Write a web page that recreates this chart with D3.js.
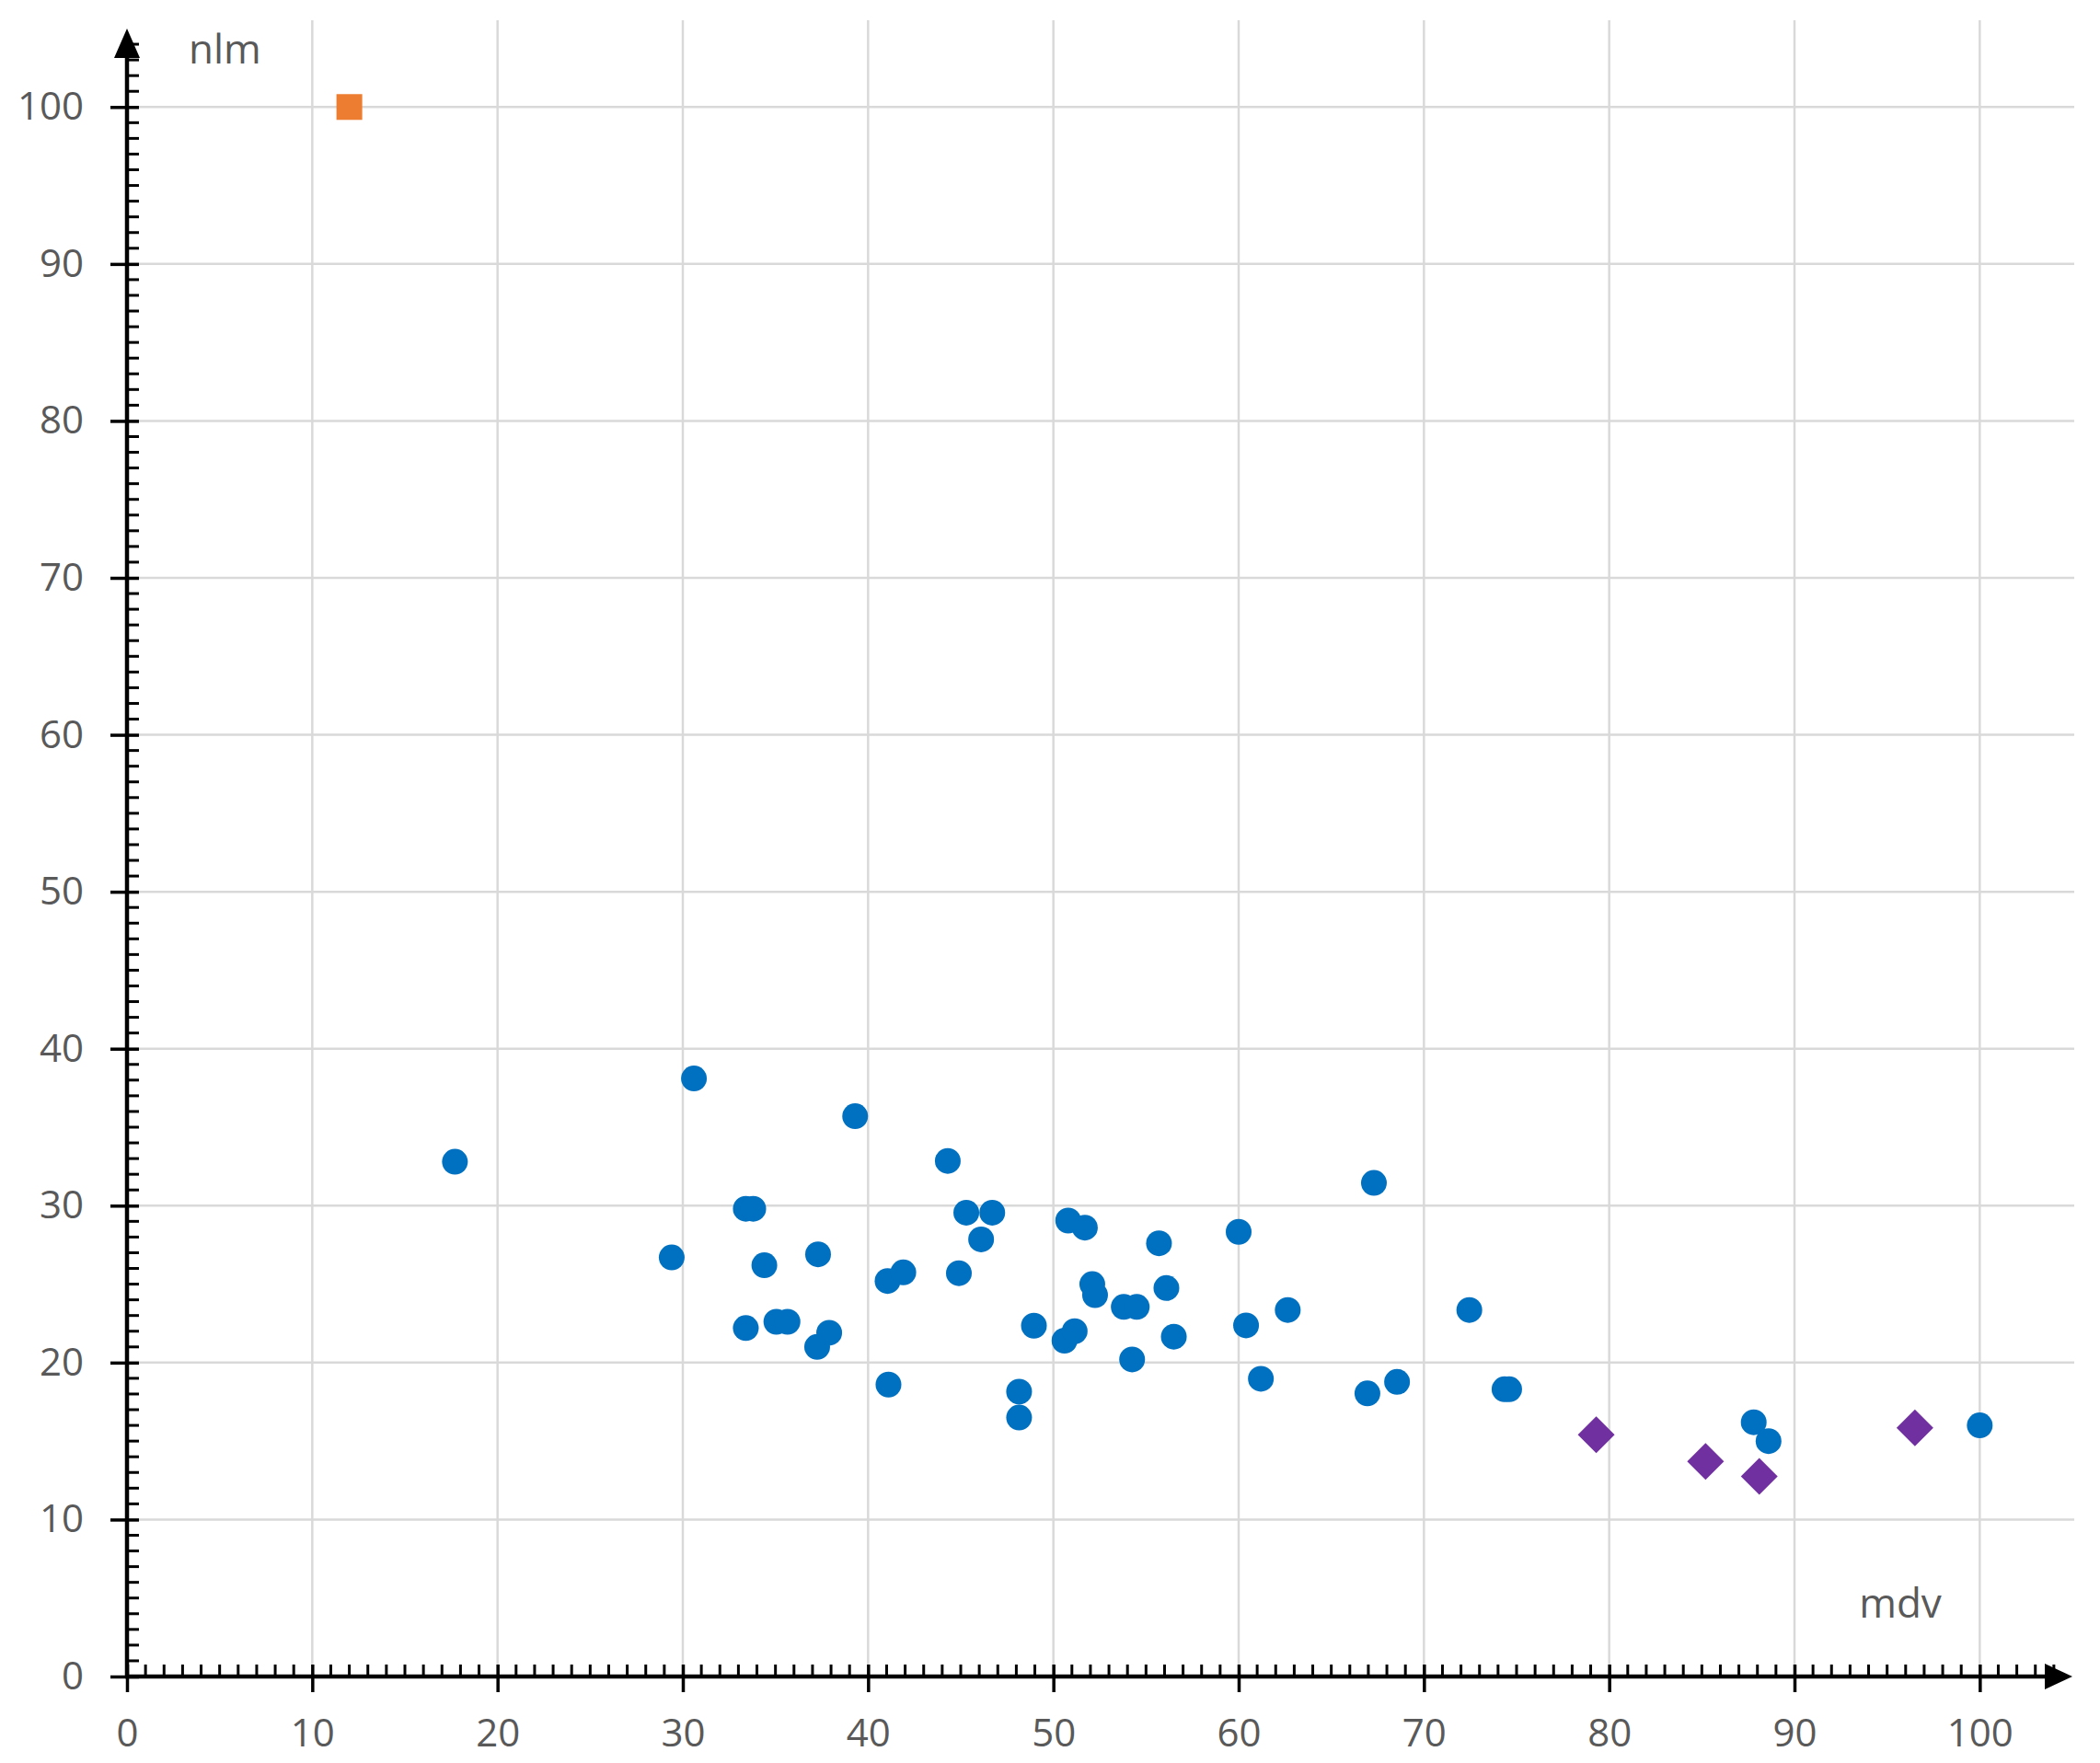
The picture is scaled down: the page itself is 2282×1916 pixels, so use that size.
<!DOCTYPE html>
<html>
<head>
<meta charset="utf-8">
<script src="https://cdn.jsdelivr.net/npm/d3@7"></script>
<style>
  html, body { margin: 0; padding: 0; background: #fff; }
</style>
</head>
<body>
<div id="chart"></div>
<script>
// series values
var blueX = [17.7, 29.4, 30.6, 33.4, 33.8, 34.4, 33.4, 35.05, 35.65, 37.3, 37.25, 37.9, 39.3,
  41.05, 41.9, 41.1, 44.3, 44.9, 45.3, 46.7, 46.1, 48.95, 48.15, 48.15, 50.8, 51.7, 50.6, 51.15,
  52.1, 52.25, 53.8, 54.5, 54.25, 55.7, 56.1, 56.5, 60.0, 60.4, 61.2, 62.65, 67.3, 66.95, 68.55,
  72.45, 74.35, 74.6, 87.8, 88.6, 100.0];
var blueY = [32.8, 26.7, 38.1, 29.8, 29.8, 26.2, 22.2, 22.6, 22.6, 26.9, 21.0, 21.9, 35.7,
  25.2, 25.75, 18.6, 32.85, 25.7, 29.55, 29.55, 27.85, 22.35, 18.15, 16.5, 29.05, 28.6, 21.4, 22.0,
  25.0, 24.3, 23.55, 23.55, 20.2, 27.6, 24.75, 21.65, 28.33, 22.37, 18.97, 23.35, 31.45, 18.04, 18.77,
  23.35, 18.3, 18.3, 16.2, 15.0, 16.0];
var purpleX = [79.3, 85.2, 88.1, 96.5];
var purpleY = [15.4, 13.7, 12.75, 15.85];
var orangeX = [12.0];
var orangeY = [100];

var xTicks = [0, 10, 20, 30, 40, 50, 60, 70, 80, 90, 100];
var yTicks = [0, 10, 20, 30, 40, 50, 60, 70, 80, 90, 100];
var xTitle = "mdv";
var yTitle = "nlm";

var W = 2282, H = 1916;
var font = "'Open Sans', 'Noto Sans', sans-serif";
var textColor = "#595959";

var svg = d3.select("#chart")
  .append("svg")
    .attr("width", W)
    .attr("height", H);

svg.append("rect").attr("width", W).attr("height", H).attr("fill", "#fff");

var x = d3.scaleLinear().domain([0, 105]).range([138, 2252]);
var y = d3.scaleLinear().domain([0, 105]).range([1822, 31]);

// gridlines
svg.append("g").selectAll("line")
  .data(xTicks.filter(function(d) { return d > 0; }))
  .join("line")
    .attr("x1", function(d) { return x(d); })
    .attr("x2", function(d) { return x(d); })
    .attr("y1", y(0))
    .attr("y2", 22)
    .attr("stroke", "#d9d9d9")
    .attr("stroke-width", 2.5);

svg.append("g").selectAll("line")
  .data(yTicks.filter(function(d) { return d > 0; }))
  .join("line")
    .attr("x1", x(0))
    .attr("x2", 2254)
    .attr("y1", function(d) { return y(d); })
    .attr("y2", function(d) { return y(d); })
    .attr("stroke", "#d9d9d9")
    .attr("stroke-width", 2.5);

// minor ticks
var minors = d3.range(1, 105).filter(function(d) { return d % 10 !== 0; });

svg.append("g").selectAll("line")
  .data(minors)
  .join("line")
    .attr("x1", function(d) { return x(d); })
    .attr("x2", function(d) { return x(d); })
    .attr("y1", y(0))
    .attr("y2", y(0) - 13)
    .attr("stroke", "#000")
    .attr("stroke-width", 3);

svg.append("g").selectAll("line")
  .data(minors)
  .join("line")
    .attr("x1", x(0))
    .attr("x2", x(0) + 13)
    .attr("y1", function(d) { return y(d); })
    .attr("y2", function(d) { return y(d); })
    .attr("stroke", "#000")
    .attr("stroke-width", 3);

// x axis
var axis_x = svg.append("g")
  .attr("transform", "translate(0," + y(0) + ")")
  .call(d3.axisBottom(x).tickValues(xTicks).tickSizeInner(17).tickSizeOuter(0).tickPadding(29));
axis_x.select(".domain").remove();
axis_x.selectAll(".tick line")
  .attr("y1", -13)
  .attr("stroke", "#000")
  .attr("stroke-width", 3.5);
axis_x.selectAll(".tick text")
  .attr("font-size", 42)
  .attr("font-family", font)
  .attr("fill", textColor);

// y axis
var axis_y = svg.append("g")
  .attr("transform", "translate(" + x(0) + ",0)")
  .call(d3.axisLeft(y).tickValues(yTicks).tickSizeInner(18).tickSizeOuter(0).tickPadding(29));
axis_y.select(".domain").remove();
axis_y.selectAll(".tick line")
  .attr("x1", 13)
  .attr("stroke", "#000")
  .attr("stroke-width", 3.5);
axis_y.selectAll(".tick text")
  .attr("font-size", 42)
  .attr("font-family", font)
  .attr("fill", textColor);

// axis lines with arrows
svg.append("line")
  .attr("x1", x(0) - 2).attr("x2", x(105) - 20)
  .attr("y1", y(0)).attr("y2", y(0))
  .attr("stroke", "#000").attr("stroke-width", 4.5);
svg.append("line")
  .attr("x1", x(0)).attr("x2", x(0))
  .attr("y1", y(0) + 2).attr("y2", y(105) + 20)
  .attr("stroke", "#000").attr("stroke-width", 4.5);

svg.append("path")
  .attr("d", "M" + x(105) + "," + y(0) + "l-30,-14l0,28z")
  .attr("fill", "#000");
svg.append("path")
  .attr("d", "M" + x(0) + "," + y(105) + "l-14,32l28,0z")
  .attr("fill", "#000");

// axis titles
svg.append("text")
  .attr("x", 205)
  .attr("y", 69)
  .attr("font-size", 44)
  .attr("font-family", font)
  .attr("fill", textColor)
  .text(yTitle);

svg.append("text")
  .attr("x", 2065)
  .attr("y", 1758)
  .attr("text-anchor", "middle")
  .attr("font-size", 44)
  .attr("font-family", font)
  .attr("fill", textColor)
  .text(xTitle);

// points
svg.append("g").selectAll("circle")
  .data(d3.range(blueX.length))
  .join("circle")
    .attr("cx", function(i) { return x(blueX[i]); })
    .attr("cy", function(i) { return y(blueY[i]); })
    .attr("r", 14)
    .attr("fill", "#0070C0");

var diamond = d3.symbol().type(d3.symbolSquare).size(800);
svg.append("g").selectAll("path")
  .data(d3.range(purpleX.length))
  .join("path")
    .attr("d", diamond)
    .attr("transform", function(i) {
      return "translate(" + x(purpleX[i]) + "," + y(purpleY[i]) + ") rotate(45)";
    })
    .attr("fill", "#7030A0");

svg.append("g").selectAll("rect")
  .data(d3.range(orangeX.length))
  .join("rect")
    .attr("x", function(i) { return x(orangeX[i]) - 14; })
    .attr("y", function(i) { return y(orangeY[i]) - 14; })
    .attr("width", 28)
    .attr("height", 28)
    .attr("fill", "#ED7D31");
</script>
</body>
</html>
